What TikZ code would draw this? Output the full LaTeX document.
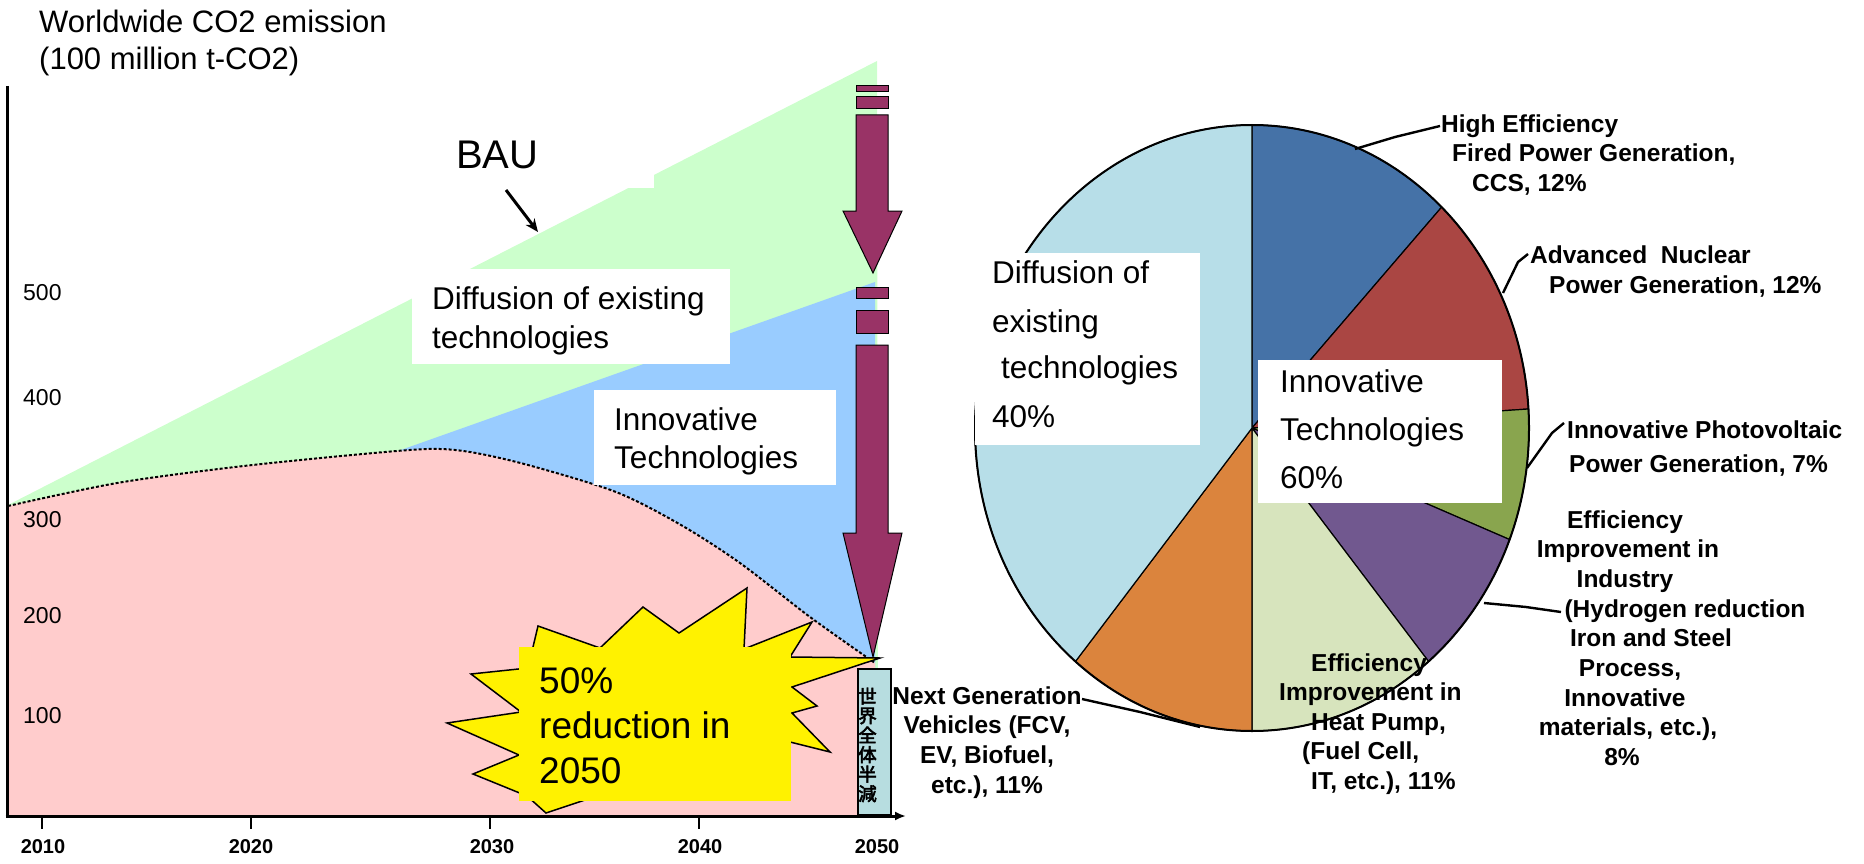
\documentclass[tikz,border=0pt]{standalone}
\usepackage{fontspec}
\setmainfont{Liberation Sans}
\newfontfamily\cjk[FakeBold=3]{Noto Sans CJK JP}
\usetikzlibrary{arrows.meta}
\definecolor{bauGreen}{HTML}{CCFFCC}
\definecolor{innoBlue}{HTML}{99CCFF}
\definecolor{basePink}{HTML}{FFCCCC}
\definecolor{arrowMaroon}{HTML}{993366}
\definecolor{boxTeal}{HTML}{B7DDE0}
\definecolor{pieLight}{HTML}{B7DEE8}
\definecolor{pieBlue}{HTML}{4572A7}
\definecolor{pieRed}{HTML}{AA4643}
\definecolor{pieGreen}{HTML}{89A54E}
\definecolor{piePurple}{HTML}{71588F}
\definecolor{pieLGreen}{HTML}{D7E4BD}
\definecolor{pieOrange}{HTML}{DB843D}
\begin{document}
\begin{tikzpicture}[x=1pt,y=-1pt,
  big/.style={inner sep=0pt, anchor=base west, font=\fontsize{31.5}{38}\selectfont},
  burst/.style={inner sep=0pt, anchor=base west, font=\fontsize{37}{45}\selectfont},
  ytick/.style={inner sep=0pt, anchor=base west, font=\fontsize{23}{27}\selectfont},
  year/.style={inner sep=0pt, anchor=base, font=\bfseries\fontsize{20}{24}\selectfont},
  pielbl/.style={inner sep=0pt, anchor=base west, font=\bfseries\fontsize{24.5}{29}\selectfont},
  pielblc/.style={pielbl, anchor=base},
  leader/.style={draw=black, line width=2.4pt},
  slice/.style={draw=black, line width=1.2pt},
  blockarrow/.style={fill=arrowMaroon, draw=black, line width=1pt},
]
\useasboundingbox (0,0) rectangle (1864,864);

% ---------- area chart ----------
\fill[bauGreen] (8,505) -- (877,61) -- (878,816) -- (8,816) -- cycle;
\fill[white] (440,120) rectangle (654,188);
\fill[innoBlue] (398,451) -- (875,282) -- (875,816) -- (398,816) -- cycle;
\fill[basePink] (8,816) -- plot[smooth, tension=0.5] coordinates {(8,506) (117,483) (235,467) (352,455) (428,449) (470,452) (528,465) (616,492) (681,525) (740,563) (810,617) (875,663)} -- (875,816) -- cycle;
\draw[line width=2pt, dash pattern=on 3pt off 2pt] plot[smooth, tension=0.5] coordinates {(8,506) (117,483) (235,467) (352,455) (428,449) (470,452) (528,465) (616,492) (681,525) (740,563) (810,617) (875,663)};

% white label boxes
\fill[white] (412,269) rectangle (730,364);
\node[big] (diffL1) at (432,309) {Diffusion of existing};
\node[big] (diffL2) at (432,348) {technologies};
\fill[white] (594,390) rectangle (836,485);
\node[big] (innoL1) at (614,430) {Innovative};
\node[big] (innoL2) at (614,468) {Technologies};

% BAU label
\node[inner sep=0pt, anchor=base west, font=\fontsize{40}{48}\selectfont] (bau) at (456,168) {BAU};
\coordinate (bauS) at (506,190);
\coordinate (bauE) at (538,232);
\draw[line width=3pt, -{Stealth[length=13pt,width=11pt]}] (bauS) -- (bauE);

% block arrows
\draw[blockarrow] (856,86) rectangle (888,92);
\draw[blockarrow] (856,97) rectangle (888,109);
\draw[blockarrow] (856,115) -- (888,115) -- (888,211) -- (902,211) -- (873,273) -- (843,211) -- (856,211) -- cycle;
\draw[blockarrow] (856,287) rectangle (888,298);
\draw[blockarrow] (856,310) rectangle (888,333);
\draw[blockarrow] (856,345) -- (888,345) -- (888,533) -- (902,533) -- (873,657) -- (843,533) -- (856,533) -- cycle;

% starburst
\draw[fill=yellow, line width=1.5pt] (747,588) -- (744,649) -- (812,622) -- (790,657) -- (880,658) -- (792,687) -- (817,706) -- (792,713) -- (830,752) -- (790,742) -- (760,790) -- (600,795) -- (546,813) -- (527,796) -- (473,774) -- (519,755) -- (447,723) -- (521,712) -- (471,674) -- (528,668) -- (538,626) -- (600,648) -- (643,607) -- (679,633) -- cycle;
\fill[yellow] (519,647) rectangle (791,801);
\node[burst] (red1) at (539,693) {50\%};
\node[burst] (red2) at (539,738) {reduction in};
\node[burst] (red3) at (539,783) {2050};

% Japanese box
\draw[fill=boxTeal, line width=1.5pt] (858,669) rectangle (891,815);
\node[inner sep=0pt, align=center, font=\cjk\fontsize{18.5}{19.5}\selectfont] (jp) at (867.5,745) {世\\界\\全\\体\\半\\減};

% axes
\draw[line width=3pt] (7,86) -- (7,817.5);
\draw[line width=3pt, -{Latex[length=11pt,width=9pt]}] (5.5,816) -- (906,816);
\foreach \tx in {42,251,490,699} \draw[line width=1.5pt] (\tx,816) -- (\tx,829);

% axis labels
\node[big, font=\fontsize{31}{37}\selectfont] (title1) at (39,33) {Worldwide CO2 emission};
\node[big, font=\fontsize{31}{37}\selectfont] (title2) at (39,70) {(100 million t-CO2)};
\node[ytick] (y500) at (23,300) {500};
\node[ytick] (y400) at (23,405) {400};
\node[ytick] (y300) at (23,527) {300};
\node[ytick] (y200) at (23,623) {200};
\node[ytick] (y100) at (23,723) {100};
\node[year] (x2010) at (43,853) {2010};
\node[year] (x2020) at (251,853) {2020};
\node[year] (x2030) at (492,853) {2030};
\node[year] (x2040) at (700,853) {2040};
\node[year] (x2050) at (877,853) {2050};

% ---------- pie chart ----------
\coordinate (pc) at (1252,428);
\filldraw[slice, fill=pieBlue] (pc) -- ++(-90:277 and 303) arc[start angle=-90, end angle=-46.8, x radius=277, y radius=303] -- cycle;
\filldraw[slice, fill=pieRed] (pc) -- ++(-46.8:277 and 303) arc[start angle=-46.8, end angle=-3.6, x radius=277, y radius=303] -- cycle;
\filldraw[slice, fill=pieGreen] (pc) -- ++(-3.6:277 and 303) arc[start angle=-3.6, end angle=21.6, x radius=277, y radius=303] -- cycle;
\filldraw[slice, fill=piePurple] (pc) -- ++(21.6:277 and 303) arc[start angle=21.6, end angle=50.4, x radius=277, y radius=303] -- cycle;
\filldraw[slice, fill=pieLGreen] (pc) -- ++(50.4:277 and 303) arc[start angle=50.4, end angle=90, x radius=277, y radius=303] -- cycle;
\filldraw[slice, fill=pieOrange] (pc) -- ++(90:277 and 303) arc[start angle=90, end angle=129.6, x radius=277, y radius=303] -- cycle;
\filldraw[slice, fill=pieLight] (pc) -- ++(129.6:277 and 303) arc[start angle=129.6, end angle=270, x radius=277, y radius=303] -- cycle;
\draw[line width=2pt] (pc) ellipse[x radius=277, y radius=303];

% pie white boxes
\fill[white] (975,253) rectangle (1200,445);
\node[big] (pd1) at (992,283) {Diffusion of};
\node[big] (pd2) at (992,332) {existing};
\node[big] (pd3) at (1001,378) {technologies};
\node[big] (pd4) at (992,427) {40\%};
\fill[white] (1258,360) rectangle (1502,503);
\node[big] (pi1) at (1280,392) {Innovative};
\node[big] (pi2) at (1280,440) {Technologies};
\node[big] (pi3) at (1280,488) {60\%};

% pie labels
\node[pielbl] (he1) at (1441,133) {High Efficiency};
\node[pielbl] (he2) at (1452,162) {Fired Power Generation,};
\node[pielbl] (he3) at (1472,192) {CCS, 12\%};
\node[pielbl] (nu1) at (1530,263) {Advanced~~Nuclear};
\node[pielbl] (nu2) at (1549,293) {Power Generation, 12\%};
\node[pielbl] (pv1) at (1567,438) {Innovative Photovoltaic};
\node[pielbl] (pv2) at (1569,472) {Power Generation, 7\%};
\node[pielblc] (in1) at (1625,528) {Efficiency};
\node[pielblc] (in2) at (1628,557) {Improvement in};
\node[pielblc] (in3) at (1625,587) {Industry};
\node[pielblc] (in4) at (1685,617) {(Hydrogen reduction};
\node[pielblc] (in5) at (1651,646) {Iron and Steel};
\node[pielblc] (in6) at (1630,676) {Process,};
\node[pielblc] (in7) at (1625,706) {Innovative};
\node[pielblc] (in8) at (1628,735) {materials, etc.),};
\node[pielblc] (in9) at (1622,765) {8\%};
\node[pielblc] (ng1) at (987,704) {Next Generation};
\node[pielblc] (ng2) at (987,733) {Vehicles (FCV,};
\node[pielblc] (ng3) at (987,763) {EV, Biofuel,};
\node[pielblc] (ng4) at (987,793) {etc.), 11\%};
\node[pielbl] (hp1) at (1311,671) {Efficiency};
\node[pielbl] (hp2) at (1279,700) {Improvement in};
\node[pielbl] (hp3) at (1311,730) {Heat Pump,};
\node[pielbl] (hp4) at (1302,759) {(Fuel Cell,};
\node[pielbl] (hp5) at (1311,789) {IT, etc.), 11\%};

% leaders
\coordinate (heA) at (1355,149); \coordinate (heB) at (1395,137); \coordinate (heC) at (1440,126);
\draw[leader] (heA) -- (heB) -- (heC);
\coordinate (nuA) at (1503,293); \coordinate (nuB) at (1518,262); \coordinate (nuC) at (1528,254);
\draw[leader] (nuA) -- (nuB) -- (nuC);
\coordinate (pvA) at (1527,468); \coordinate (pvB) at (1552,433); \coordinate (pvC) at (1564,423);
\draw[leader] (pvA) -- (pvB) -- (pvC);
\coordinate (inA) at (1484,603); \coordinate (inB) at (1526,607); \coordinate (inC) at (1561,612);
\draw[leader] (inA) -- (inB) -- (inC);
\coordinate (ngA) at (1082,699); \coordinate (ngB) at (1140,712); \coordinate (ngC) at (1200,727);
\draw[leader] (ngA) -- (ngB) -- (ngC);
\end{tikzpicture}
\end{document}
